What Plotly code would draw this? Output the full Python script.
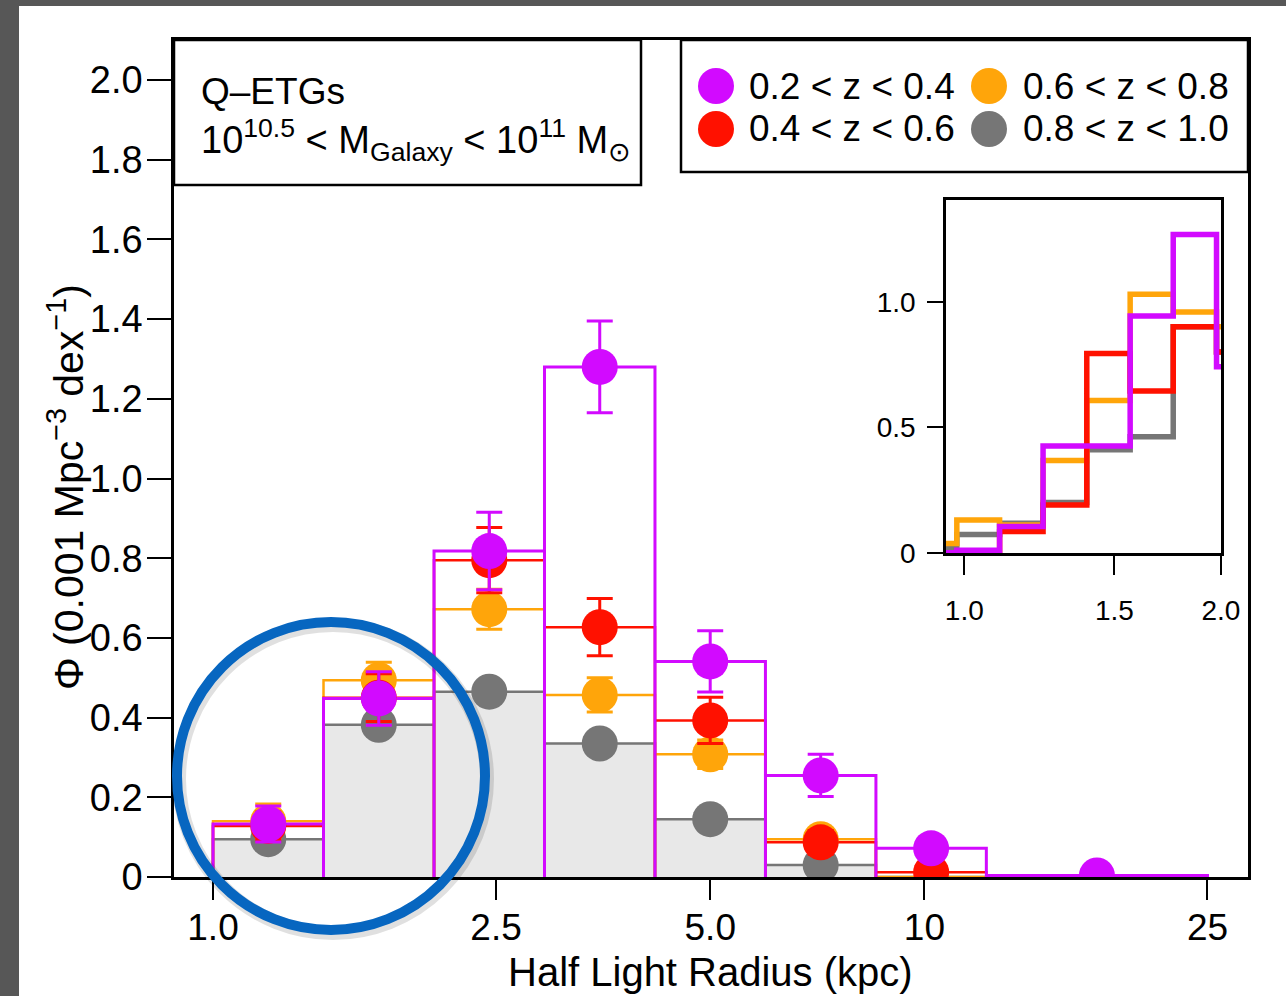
import numpy as np
import plotly.graph_objects as go

# ---------------- data ----------------
# radius bin edges (kpc); the last bin is twice as wide in log space
bin_edges = [1.0, 1.430, 2.045, 2.924, 4.181, 5.978, 8.548, 12.22, 25.0]

# number density per bin, 0.001 Mpc^-3 dex^-1
phi_z02_04 = [0.133, 0.448, 0.818, 1.280, 0.541, 0.255, 0.072, 0.004]
err_z02_04 = [0.045, 0.067, 0.097, 0.115, 0.077, 0.053, 0.020, 0.0]
phi_z04_06 = [0.128, 0.450, 0.795, 0.627, 0.393, 0.087, 0.012, 0.0]
err_z04_06 = [0.035, 0.060, 0.082, 0.072, 0.058, 0.030, 0.010, 0.0]
phi_z06_08 = [0.140, 0.494, 0.672, 0.457, 0.308, 0.095, 0.0, 0.0]
err_z06_08 = [0.043, 0.045, 0.050, 0.043, 0.036, 0.025, 0.0, 0.0]
phi_z08_10 = [0.095, 0.382, 0.465, 0.335, 0.145, 0.030, 0.0, 0.0]

# which bins carry a plotted point
pts_z02_04 = [True, True, True, True, True, True, True, True]
pts_z04_06 = [True, True, True, True, True, True, True, False]
pts_z06_08 = [True, True, True, True, True, True, False, False]
pts_z08_10 = [True, True, True, True, True, True, False, False]

# inset: finer binning at small radii
inset_edges = [0.873, 0.980, 1.100, 1.237, 1.392, 1.565, 1.758, 1.976, 2.220]
inset_z02_04 = [0.0, 0.010, 0.104, 0.425, 0.425, 0.943, 1.268, 0.741]
inset_z04_06 = [0.0, 0.0, 0.084, 0.190, 0.794, 0.644, 0.900, 0.800]
inset_z06_08 = [0.037, 0.130, 0.110, 0.367, 0.606, 1.030, 0.959, 0.900]
inset_z08_10 = [0.020, 0.073, 0.117, 0.200, 0.410, 0.462, 0.900, 0.800]

labels = ["0.2 < z < 0.4", "0.4 < z < 0.6", "0.6 < z < 0.8", "0.8 < z < 1.0"]
xtick_vals = [1.0, 2.5, 5.0, 10, 25]
xtick_text = ["1.0", "2.5", "5.0", "10", "25"]
ytick_vals = [0, 0.2, 0.4, 0.6, 0.8, 1.0, 1.2, 1.4, 1.6, 1.8, 2.0]
ytick_text = ["0", "0.2", "0.4", "0.6", "0.8", "1.0", "1.2", "1.4", "1.6", "1.8", "2.0"]

PURPLE = "#D20AFF"
RED = "#FF1100"
ORANGE = "#FFA50A"
GREY = "#767676"
FILL = "#E8E8E8"
FONT = "Liberation Sans, Arial, Helvetica, sans-serif"

# ---------------- layout geometry ----------------
W, H = 1286, 996
L, R, T, B = 174, 1248, 40, 877
PW, PH = R - L, B - T


def px(x):
    return (x - L) / PW


def py(y):
    return (B - y) / PH


def bar_outline(edges, vals):
    """Polyline tracing each bin as a bar from zero."""
    xs, ys = [edges[0]], [0.0]
    for i, v in enumerate(vals):
        xs += [edges[i], edges[i + 1], edges[i + 1]]
        ys += [v, v, 0.0]
    return xs, ys


centers = [float(np.sqrt(bin_edges[i] * bin_edges[i + 1])) for i in range(len(bin_edges) - 1)]

fig = go.Figure()

# histograms: grey filled, then orange, red and purple outlines
series = [
    (phi_z08_10, None, pts_z08_10, GREY, 2.5),
    (phi_z06_08, err_z06_08, pts_z06_08, ORANGE, 2.5),
    (phi_z04_06, err_z04_06, pts_z04_06, RED, 2.5),
    (phi_z02_04, err_z02_04, pts_z02_04, PURPLE, 3),
]

for vals, _, _, col, lw in series:
    xs, ys = bar_outline(bin_edges, vals)
    fig.add_trace(go.Scatter(
        x=xs, y=ys, mode="lines",
        line=dict(color=col, width=lw),
        fill="toself" if col == GREY else None,
        fillcolor=FILL if col == GREY else None,
        hoverinfo="skip", showlegend=False, xaxis="x", yaxis="y",
    ))

for vals, errs, show, col, _ in series:
    xs = [c for c, s in zip(centers, show) if s]
    ys = [v for v, s in zip(vals, show) if s]
    kw = {}
    if errs is not None:
        es = [e for e, s in zip(errs, show) if s]
        kw["error_y"] = dict(type="data", array=es, visible=True,
                             color=col, thickness=3, width=13)
    fig.add_trace(go.Scatter(
        x=xs, y=ys, mode="markers",
        marker=dict(color=col, size=36, line=dict(width=0)),
        hoverinfo="skip", showlegend=False, xaxis="x", yaxis="y", **kw,
    ))

# inset step curves
for vals, col in [(inset_z08_10, GREY), (inset_z06_08, ORANGE),
                  (inset_z04_06, RED), (inset_z02_04, PURPLE)]:
    fig.add_trace(go.Scatter(
        x=inset_edges, y=list(vals) + [vals[-1]], mode="lines",
        line=dict(color=col, width=5.5, shape="hv"),
        hoverinfo="skip", showlegend=False, xaxis="x2", yaxis="y2",
    ))

axis_common = dict(showgrid=False, zeroline=False, showline=True, mirror=True,
                   linecolor="black", ticks="outside", tickcolor="black")

# inset position in pixels
IL, IR, IT, IB = 946, 1221, 200, 553

fig.update_layout(
    width=W, height=H,
    margin=dict(l=L, r=W - R, t=T, b=H - B, pad=0),
    paper_bgcolor="white", plot_bgcolor="rgba(0,0,0,0)",
    showlegend=False,
    font=dict(family=FONT, color="black"),
    xaxis=dict(type="log", range=[np.log10(1.0) - 39 / 711.4, (R - 213) / 711.4],
               tickvals=xtick_vals, ticktext=xtick_text, ticklen=20, tickwidth=2,
               linewidth=2.5, tickfont=dict(size=37), ticklabelstandoff=-4,
               domain=[0, 1], anchor="y", **axis_common),
    yaxis=dict(range=[0, (B - T) / 398.5], tickvals=ytick_vals, ticktext=ytick_text,
               ticklen=24, tickwidth=2, linewidth=2.5, tickfont=dict(size=38),
               ticklabelstandoff=-3, domain=[0, 1], anchor="x", **axis_common),
    xaxis2=dict(type="log", range=[-(964.3 - IL) / 852.7, (IR - 964.3) / 852.7],
                tickvals=[1.0, 1.5, 2.0], ticktext=["1.0", "1.5", "2.0"],
                ticklen=19, tickwidth=2, linewidth=2.5, tickfont=dict(size=28),
                ticklabelstandoff=12, domain=[px(IL), px(IR)], anchor="y2", **axis_common),
    yaxis2=dict(range=[-(IB - 552.7) / 251, (552.7 - IT) / 251],
                tickvals=[0, 0.5, 1.0], ticktext=["0", "0.5", "1.0"],
                ticklen=16, tickwidth=2, linewidth=2.5, tickfont=dict(size=28),
                ticklabelstandoff=6, domain=[py(IB), py(IT)], anchor="x2", **axis_common),
)

shapes = []
# dark frame strips at the page edges
shapes.append(dict(type="rect", xref="paper", yref="paper", x0=px(0), x1=px(19),
                   y0=py(H), y1=py(0), fillcolor="#575757", line=dict(width=0), layer="above"))
shapes.append(dict(type="rect", xref="paper", yref="paper", x0=px(0), x1=px(W),
                   y0=py(6), y1=py(0), fillcolor="#575757", line=dict(width=0), layer="above"))
# label boxes
shapes.append(dict(type="rect", xref="paper", yref="paper", x0=px(174), x1=px(641),
                   y0=py(185), y1=py(40), fillcolor="white",
                   line=dict(color="black", width=2.5), layer="above"))
shapes.append(dict(type="rect", xref="paper", yref="paper", x0=px(681), x1=px(1248),
                   y0=py(172), y1=py(40), fillcolor="white",
                   line=dict(color="black", width=2.5), layer="above"))
# legend markers
for (cx, cy), col in zip([(716, 86), (716, 129), (989, 86), (989, 129)],
                         [PURPLE, RED, ORANGE, GREY]):
    r = 18
    shapes.append(dict(type="circle", xref="paper", yref="paper",
                       x0=px(cx - r), x1=px(cx + r), y0=py(cy + r), y1=py(cy - r),
                       fillcolor=col, line=dict(width=0), layer="above"))
# highlight ring with a soft shadow
ccx, ccy, cr = 331, 776, 154
shapes.append(dict(type="circle", xref="paper", yref="paper",
                   x0=px(ccx - cr + 2), x1=px(ccx + cr + 2), y0=py(ccy + cr + 3), y1=py(ccy - cr + 3),
                   line=dict(color="rgba(0,0,0,0.12)", width=14), layer="above"))
shapes.append(dict(type="circle", xref="paper", yref="paper",
                   x0=px(ccx - cr), x1=px(ccx + cr), y0=py(ccy + cr), y1=py(ccy - cr),
                   line=dict(color="#0766C0", width=10), layer="above"))
fig.update_layout(shapes=shapes)

ann = []
ann.append(dict(text="Q\u2013ETGs", x=px(199), y=py(92), xref="paper", yref="paper",
                xanchor="left", yanchor="middle", showarrow=False, font=dict(size=37)))
ann.append(dict(text="10<sup>10.5</sup> < M<sub>Galaxy</sub> < 10<sup>11</sup> M<sub>\u2299</sub>",
                x=px(199), y=py(140), xref="paper", yref="paper",
                xanchor="left", yanchor="middle", showarrow=False, font=dict(size=38)))
for (tx, ty), lab in zip([(747, 86), (747, 129), (1021, 86), (1021, 129)], labels):
    ann.append(dict(text=lab, x=px(tx), y=py(ty), xref="paper", yref="paper",
                    xanchor="left", yanchor="middle", showarrow=False, font=dict(size=37)))
ann.append(dict(text="Half Light Radius (kpc)", x=px(710), y=py(972), xref="paper", yref="paper",
                xanchor="center", yanchor="middle", showarrow=False, font=dict(size=40)))
ann.append(dict(text="\u03a6 (0.001 Mpc<sup>\u22123</sup> dex<sup>\u22121</sup>)",
                x=px(66), y=py(487), xref="paper", yref="paper", textangle=-90,
                xanchor="center", yanchor="middle", showarrow=False, font=dict(size=41)))
fig.update_layout(annotations=ann)

fig.write_html("out.html")
